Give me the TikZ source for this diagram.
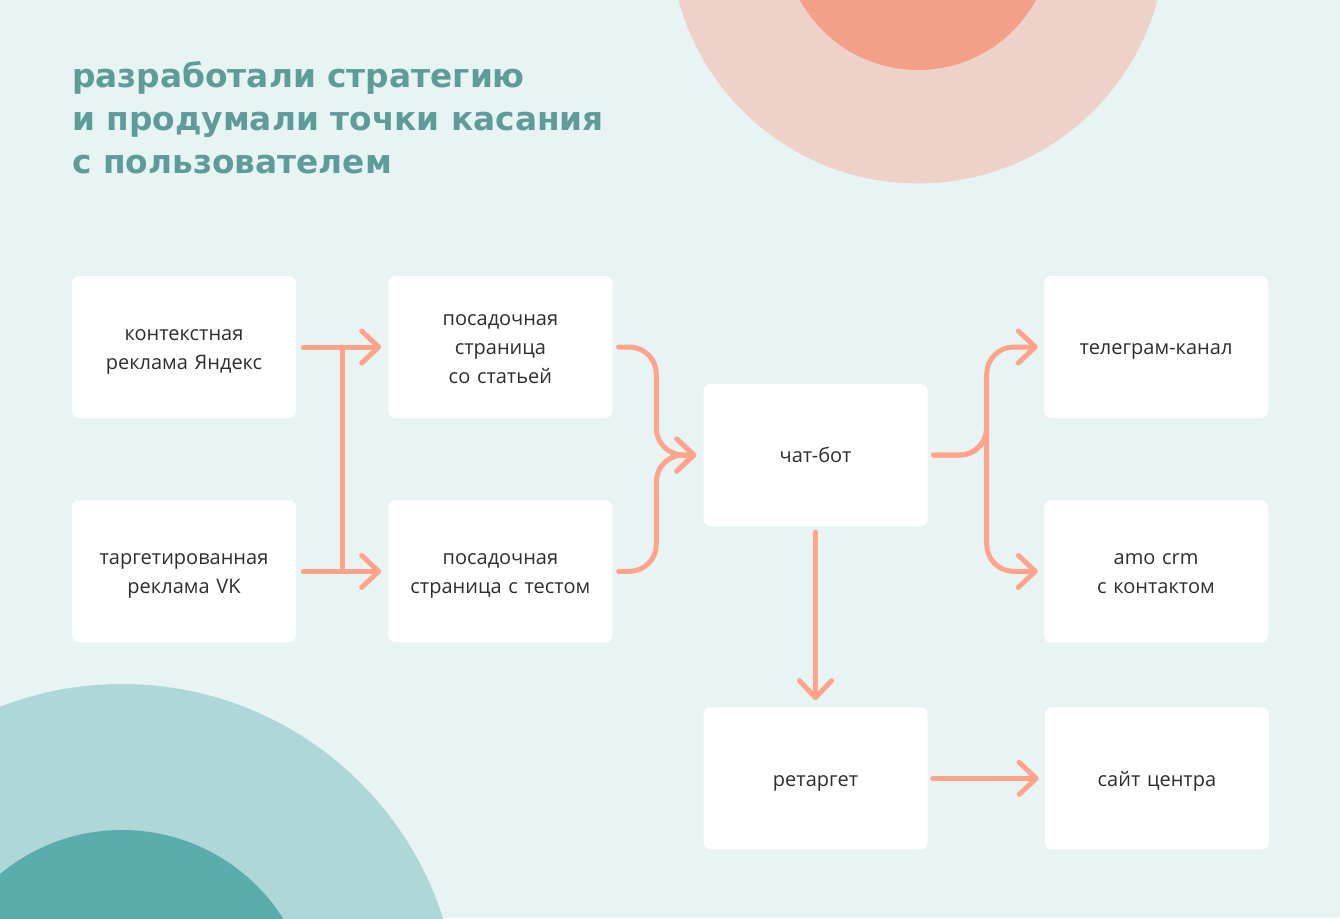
\documentclass[tikz,border=0pt]{standalone}
\usepackage{fontspec}
\setmainfont{Open Sans}
\newfontfamily\titlefont{DejaVu Sans}
\usetikzlibrary{positioning}
\usetikzlibrary{arrows.meta}
\usetikzlibrary{calc}

\definecolor{bgc}{HTML}{E8F4F4}
\definecolor{pinklight}{HTML}{EED1C8}
\definecolor{pinkdark}{HTML}{F49F87}
\definecolor{teallight}{HTML}{AFD7D7}
\definecolor{tealdark}{HTML}{5BACAD}
\definecolor{titlec}{HTML}{5E9C9A}
\definecolor{arrowc}{HTML}{FFA48A}
\definecolor{textc}{HTML}{2E2E2E}

\newcommand{\linebox}{\rule[-6.65pt]{0pt}{29pt}}

\begin{document}
\begin{tikzpicture}[x=1pt, y=-1pt]
  \tikzstyle{block}=[
      rectangle, rounded corners = 7pt, fill = white
    , minimum width = 224pt, minimum height = 142pt
    , inner sep = 0pt, text width = 224pt, align = center, text = textc
    , font = \fontsize{20}{29}\selectfont
    , execute at begin node = \linebox
    , execute at end node = \linebox
    ]
  \tikzstyle{connect}=[
      -{Straight Barb[length = 17pt, width = 32pt, round]}
    , line width = 5pt, line cap = round, draw = arrowc
    ]
  \tikzstyle{link}=[line width = 5pt, line cap = round, draw = arrowc]

  % background and circles
  \fill[bgc] (0,0) rectangle (1340,918);
  \useasboundingbox (0,0) rectangle (1340,918);
  \begin{scope}
    \clip (0,0) rectangle (1340,918);
    \fill[pinklight] (918,-64.5) circle (248);
    \fill[pinkdark] (918,-64.5) circle (134.5);
    \fill[teallight] (122,1021) circle (337);
    \fill[tealdark] (122,1021) circle (191);
  \end{scope}

  \node[anchor = base west, align = left, text = titlec
    , font = \titlefont\bfseries\fontsize{32.8}{43}\selectfont, inner sep = 0pt]
    (title) at (72,173)
    {разработали стратегию\\и продумали точки касания\\с пользователем};

  \node[block] (yandex) at (184,347) {контекстная\\реклама Яндекс};
  \node[block] (vk) [below = 82pt of yandex] {таргетированная\\реклама VK};
  \node[block] (article) [right = 92pt of yandex] {посадочная\\страница\\со статьей};
  \node[block] (test) [right = 92pt of vk] {посадочная\\страница с тестом};
  \node[block] (bot) at (815.5,455) {чат-бот};
  \node[block] (tg) at (1156,347) {телеграм-канал};
  \node[block] (amo) [below = 82pt of tg] {amo crm\\с контактом};
  \node[block] (retarget) [below = 181pt of bot] {ретаргет};
  \node[block] (site) [right = 117pt of retarget] {сайт центра};

  \coordinate (split) at ($(yandex.east)!0.5!(article.west)$);
  \coordinate (join) at ($(bot.west) + (-47pt,0)$);
  \coordinate (fork) at ($(bot.east) + (59pt,0)$);

  \draw[connect, shorten <= 7pt, shorten >= 7pt] (yandex) -- (article);
  \draw[connect, shorten <= 7pt, shorten >= 7pt] (vk) -- (test);
  \draw[link] (split) -- (split |- vk.east);

  \draw[connect, rounded corners = 27pt, shorten <= 6pt, shorten >= 7pt]
    (article.east) -| (join) -- (bot.west);
  \draw[connect, rounded corners = 27pt, shorten <= 6pt, shorten >= 7pt]
    (test.east) -| (join) -- (bot.west);

  \draw[connect, rounded corners = 27pt, shorten <= 6pt, shorten >= 6pt]
    (bot.east) -| (fork) |- (tg.west);
  \draw[connect, rounded corners = 27pt, shorten <= 6pt, shorten >= 6pt]
    (bot.east) -| (fork) |- (amo.west);

  \draw[connect, shorten <= 6pt, shorten >= 7pt] (bot) -- (retarget);
  \draw[connect, shorten <= 5pt, shorten >= 6pt] (retarget) -- (site);

\end{tikzpicture}
\end{document}
